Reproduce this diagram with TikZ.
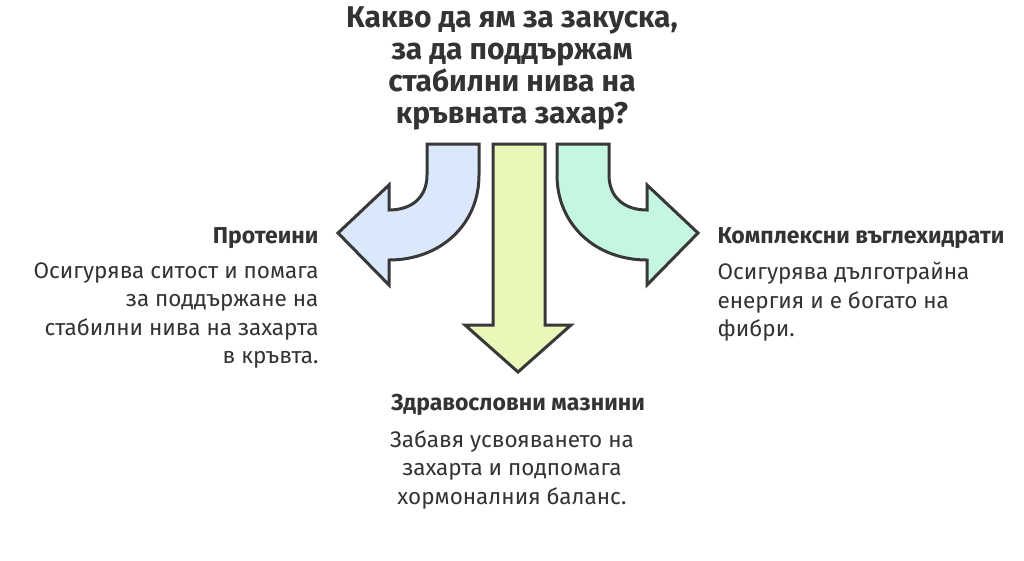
\documentclass[tikz,border=0pt]{standalone}
\usepackage{fontspec}
\setmainfont{Fira Sans}
\begin{document}
\begin{tikzpicture}[x=1pt,y=-1pt,
  arr/.style={draw=black!78,line width=3pt,line join=miter},
  ttl/.style={font=\bfseries\fontsize{30}{32}\selectfont,text=black!80,align=center},
  hd/.style={font=\bfseries\fontsize{23}{26}\selectfont,text=black!80},
  bd/.style={font=\fontsize{22.5}{28.5}\selectfont,text=black!80}]
\useasboundingbox (0,0) rectangle (1024,560);
\fill[white] (0,0) rectangle (1024,560);
% left arrow
\draw[arr,fill={rgb,255:red,219;green,231;blue,250}]
 (427,144) -- (479,144) -- (479,175) .. controls (479,225) and (440,260) .. (389,260)
 -- (389,285) -- (338,233) -- (389,185) -- (389,210) .. controls (412,210) and (427,197) .. (427,175) -- cycle;
% right arrow
\draw[arr,fill={rgb,255:red,197;green,246;blue,224}]
 (609,144) -- (557,144) -- (557,175) .. controls (557,225) and (596,260) .. (647,260)
 -- (647,285) -- (698,233) -- (647,185) -- (647,210) .. controls (624,210) and (609,197) .. (609,175) -- cycle;
% middle arrow
\draw[arr,fill={rgb,255:red,232;green,248;blue,185}]
 (493,144) -- (545,144) -- (545,325) -- (571,325) -- (518,372) -- (465,325) -- (493,325) -- cycle;
\node[ttl] (t) at (512,68) {Какво да ям за закуска,\\за да поддържам\\стабилни нива на\\кръвната захар?};
\node[hd,anchor=east] (h1) at (322,238) {Протеини};
\node[bd,anchor=north east,align=right] (b1) at (322,259) {Осигурява ситост и помага\\за поддържане на\\стабилни нива на захарта\\в кръвта.};
\node[hd,anchor=west] (h2) at (714,238) {Комплексни въглехидрати};
\node[bd,anchor=north west,align=left] (b2) at (714,259) {Осигурява дълготрайна\\енергия и е богато на\\фибри.};
\node[hd] (h3) at (518,405) {Здравословни мазнини};
\node[bd,anchor=north,align=center] (b3) at (512,427) {Забавя усвояването на\\захарта и подпомага\\хормоналния баланс.};
\end{tikzpicture}
\end{document}
